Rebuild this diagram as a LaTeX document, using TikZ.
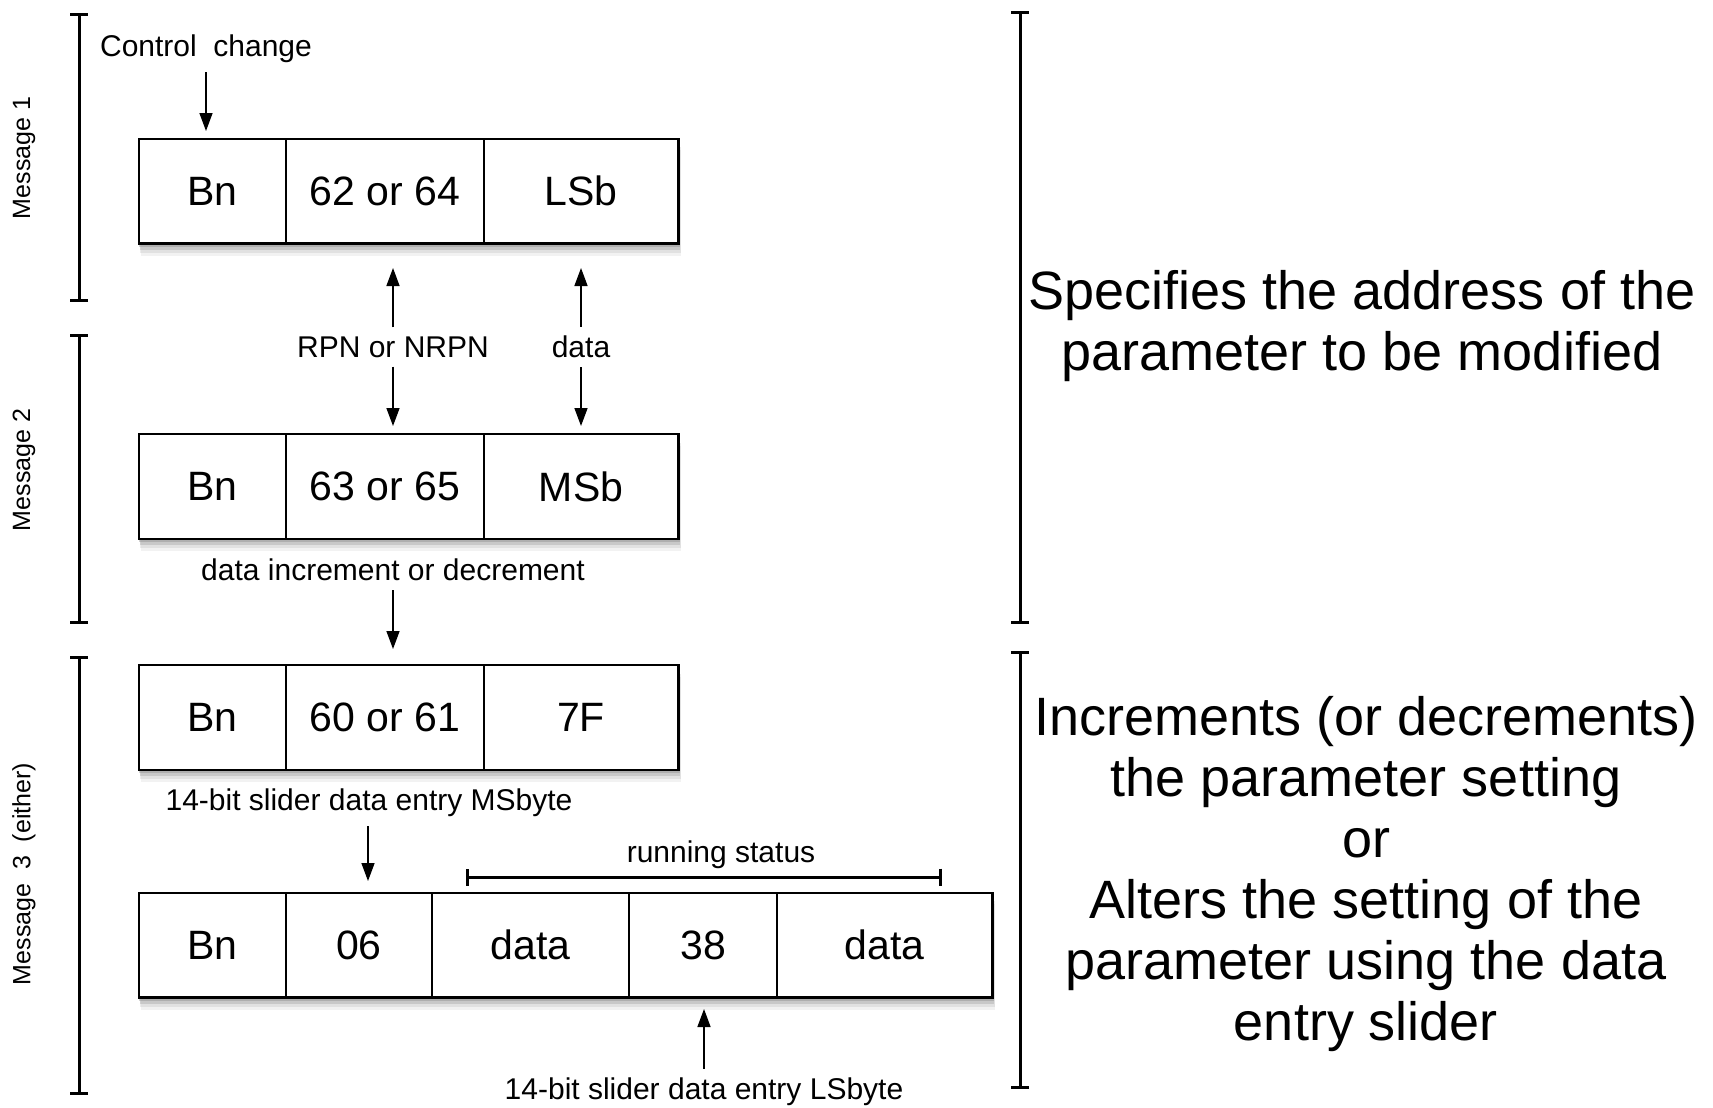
\documentclass[tikz,border=0pt]{standalone}
\usepackage{fontspec}
\setmainfont{Liberation Sans}
\usetikzlibrary{arrows.meta,shadows,fit,backgrounds}
\begin{document}
\begin{tikzpicture}[x=1pt,y=-1pt,
  cell/.style={draw, line width=1.5pt, fill=white, minimum height=104pt, inner sep=0pt, font=\fontsize{41}{41}\selectfont},
  frame/.style={draw, line width=1.5pt, inner sep=0pt, fill=white,
    drop shadow={shadow xshift=2.5pt, shadow yshift=-12pt, opacity=0.1},
    drop shadow={shadow xshift=2pt, shadow yshift=-9pt, opacity=0.15},
    drop shadow={shadow xshift=1.5pt, shadow yshift=-6pt, opacity=0.25},
    drop shadow={shadow xshift=1pt, shadow yshift=-3pt, opacity=0.35}},
  lbl/.style={font=\fontsize{30}{30}\selectfont, inner sep=2pt},
  msg/.style={rotate=90, font=\fontsize{25}{25}\selectfont},
  big/.style={align=center, font=\fontsize{54}{61}\selectfont},
  arr/.style={line width=1.5pt, shorten <=7pt, -{Triangle[width=13pt,length=18pt]}},
  brk/.style={line width=3pt, {Bar[width=18pt]}-{Bar[width=18pt]}},
]
\useasboundingbox (0,0) rectangle (1713,1108);

% Row 1
\node[cell, minimum width=147pt] (a1) at (212.5,191) {Bn};
\node[cell, minimum width=198pt] (a2) at (385,191) {62 or 64};
\node[cell, minimum width=194pt] (a3) at (581,191) {LSb};
% Row 2
\node[cell, minimum width=147pt] (b1) at (212.5,486.5) {Bn};
\node[cell, minimum width=198pt] (b2) at (385,486.5) {63 or 65};
\node[cell, minimum width=194pt] (b3) at (581,486.5) {MSb};
% Row 3
\node[cell, minimum width=147pt] (c1) at (212.5,717.5) {Bn};
\node[cell, minimum width=198pt] (c2) at (385,717.5) {60 or 61};
\node[cell, minimum width=194pt] (c3) at (581,717.5) {7F};
% Row 4
\node[cell, minimum width=147pt] (d1) at (212.5,945) {Bn};
\node[cell, minimum width=146pt] (d2) at (359,945) {06};
\node[cell, minimum width=197pt] (d3) at (530.5,945) {data};
\node[cell, minimum width=148pt] (d4) at (703,945) {38};
\node[cell, minimum width=215pt] (d5) at (884.5,945) {data};

\begin{scope}[on background layer]
  \fill[white] (0,0) rectangle (1713,1108);
  \node[frame, fit=(a1)(a3)] (fa) {};
  \node[frame, fit=(b1)(b3)] (fb) {};
  \node[frame, fit=(c1)(c3)] (fc) {};
  \node[frame, fit=(d1)(d5)] (fd) {};
\end{scope}

% Labels
\node[lbl] (cc) at (206,49) {Control\ \ change};
\node[lbl] (rpn) at (393,347) {RPN or NRPN};
\node[lbl] (dat) at (581,347) {data};
\node[lbl] (inc) at (393,570) {data increment or decrement};
\node[lbl] (msb) at (369,803) {14-bit slider data entry MSbyte};
\node[lbl] (rs) at (721,855) {running status};
\node[lbl] (lsb) at (704,1092) {14-bit slider data entry LSbyte};

% Arrow end coordinates
\coordinate (ccT) at (206,131);
\coordinate (rpnU) at (393,268);
\coordinate (rpnD) at (393,426);
\coordinate (datU) at (581,268);
\coordinate (datD) at (581,426);
\coordinate (incD) at (393,649);
\coordinate (msbD) at (368,881);
\coordinate (lsbU) at (704,1009);

\draw[arr] (cc) -- (ccT);
\draw[arr] (rpn) -- (rpnU);
\draw[arr] (rpn) -- (rpnD);
\draw[arr] (dat) -- (datU);
\draw[arr] (dat) -- (datD);
\draw[arr] (inc) -- (incD);
\draw[arr] (msb.south -| msbD) -- (msbD);
\draw[arr] (lsb) -- (lsbU);

% running status bar
\coordinate (rs1) at (466,877);
\coordinate (rs2) at (942,877);
\draw[line width=3pt, {Bar[width=17pt]}-{Bar[width=17pt]}] (rs1) -- (rs2);

% Brackets left
\coordinate (m1t) at (79,13);  \coordinate (m1b) at (79,302);
\coordinate (m2t) at (79,334); \coordinate (m2b) at (79,624);
\coordinate (m3t) at (79,656); \coordinate (m3b) at (79,1095);
\draw[brk] (m1t) -- (m1b);
\draw[brk] (m2t) -- (m2b);
\draw[brk] (m3t) -- (m3b);
\node[msg] (msg1) at (24,158) {Message 1};
\node[msg] (msg2) at (24,470) {Message 2};
\node[msg] (msg3) at (24,874) {Message\ \ 3\ \ (either)};

% Brackets right
\coordinate (r1t) at (1020,11);  \coordinate (r1b) at (1020,624);
\coordinate (r2t) at (1020,651); \coordinate (r2b) at (1020,1089);
\draw[brk] (r1t) -- (r1b);
\draw[brk] (r2t) -- (r2b);

\node[big] (t1) at (1362,326) {Specifies the address of the\\parameter to be modified};
\node[big] (t2) at (1366,874) {Increments (or decrements)\\the parameter setting\\or\\Alters the setting of the\\parameter using the data\\entry slider};
\end{tikzpicture}
\end{document}
